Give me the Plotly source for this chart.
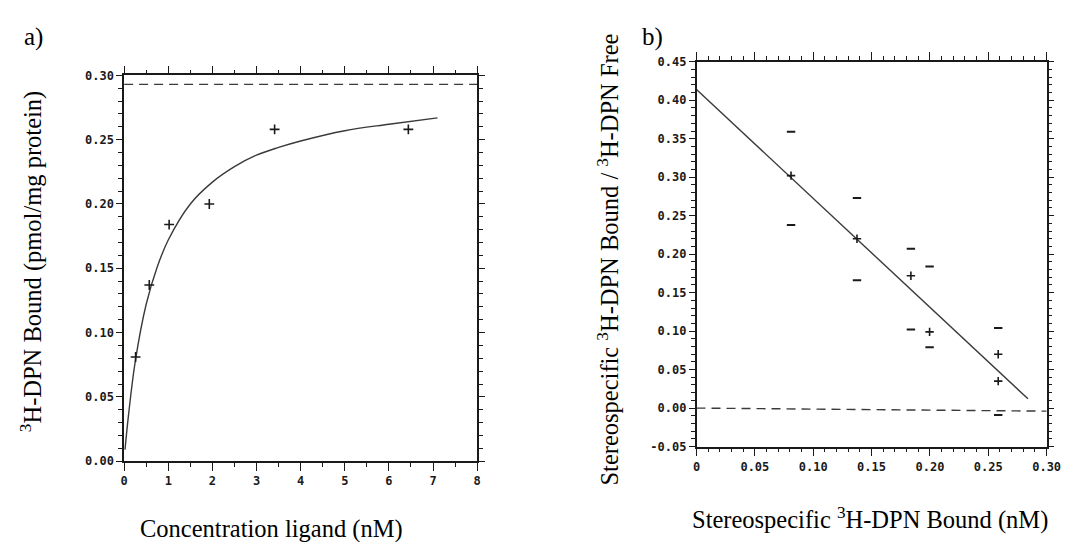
import plotly.graph_objects as go

W, H = 1091, 542

# ---------------- data: panel a (saturation binding) ----------------
conc_nM = [0.26, 0.57, 1.02, 1.93, 3.41, 6.44]
bound_pmol = [0.081, 0.137, 0.184, 0.200, 0.258, 0.258]
fit_x = [0.02, 0.1, 0.25, 0.5, 0.75, 1.0, 1.5, 2.0, 2.5, 3.0, 3.5, 4.0, 5.0, 6.0, 7.1]
fit_y = [0.009, 0.036, 0.077, 0.122, 0.151, 0.172, 0.200, 0.217, 0.229, 0.238, 0.244, 0.249, 0.257, 0.262, 0.267]
bmax_x = [0, 8]
bmax_y = [0.293, 0.293]

# ---------------- data: panel b (Scatchard) ----------------
sc_bound = [0.081, 0.1375, 0.1837, 0.1997, 0.2585, 0.2585]
sc_ratio = [0.302, 0.220, 0.172, 0.099, 0.070, 0.035]
cap_x = [0.081, 0.1375, 0.1837, 0.1997, 0.2585]
cap_hi = [0.359, 0.273, 0.207, 0.184, 0.104]
cap_lo = [0.238, 0.166, 0.102, 0.079, -0.009]
reg_x = [0.0, 0.284]
reg_y = [0.414, 0.012]
zero_x = [0.0, 0.30]
zero_y = [0.0, -0.004]

a_xticks = [0, 1, 2, 3, 4, 5, 6, 7, 8]
a_xlabels = ["0", "1", "2", "3", "4", "5", "6", "7", "8"]
a_yticks = [0.0, 0.05, 0.10, 0.15, 0.20, 0.25, 0.30]
a_ylabels = ["0.00", "0.05", "0.10", "0.15", "0.20", "0.25", "0.30"]
b_xticks = [0, 0.05, 0.10, 0.15, 0.20, 0.25, 0.30]
b_xlabels = ["0", "0.05", "0.10", "0.15", "0.20", "0.25", "0.30"]
b_yticks = [-0.05, 0.0, 0.05, 0.10, 0.15, 0.20, 0.25, 0.30, 0.35, 0.40, 0.45]
b_ylabels = ["-0.05", "0.00", "0.05", "0.10", "0.15", "0.20", "0.25", "0.30", "0.35", "0.40", "0.45"]

INK = "#1a1a1a"
LINE = "#3a3a3a"

fig = go.Figure()

# panel a
fig.add_trace(go.Scatter(x=bmax_x, y=bmax_y, mode="lines", xaxis="x", yaxis="y",
                         line=dict(color=LINE, width=1.4, dash="9px,6px"), showlegend=False))
fig.add_trace(go.Scatter(x=fit_x, y=fit_y, mode="lines", xaxis="x", yaxis="y", line_shape="spline",
                         line=dict(color=LINE, width=1.4), showlegend=False))
fig.add_trace(go.Scatter(x=conc_nM, y=bound_pmol, mode="markers", xaxis="x", yaxis="y",
                         marker=dict(symbol="cross-thin", size=7, line=dict(color=INK, width=1.6)),
                         showlegend=False))

# panel b
fig.add_trace(go.Scatter(x=zero_x, y=zero_y, mode="lines", xaxis="x2", yaxis="y2",
                         line=dict(color=LINE, width=1.4, dash="9px,6px"), showlegend=False))
fig.add_trace(go.Scatter(x=reg_x, y=reg_y, mode="lines", xaxis="x2", yaxis="y2",
                         line=dict(color=LINE, width=1.4), showlegend=False))
fig.add_trace(go.Scatter(x=cap_x + cap_x, y=cap_hi + cap_lo, mode="markers", xaxis="x2", yaxis="y2",
                         marker=dict(symbol="line-ew", size=6, line=dict(color=INK, width=2)),
                         showlegend=False))
fig.add_trace(go.Scatter(x=sc_bound, y=sc_ratio, mode="markers", xaxis="x2", yaxis="y2",
                         marker=dict(symbol="cross-thin", size=6, line=dict(color=INK, width=1.6)),
                         showlegend=False))

tickfont = dict(family="DejaVu Sans Mono", size=12, color=INK, weight="bold")


def ax(domain, rng, tv, tt, minor_dtick, anchor, major_len=8):
    return dict(domain=domain, range=rng, anchor=anchor, showgrid=False, zeroline=False,
                showline=True, linecolor=INK, linewidth=1.5, mirror="ticks",
                ticks="outside", ticklen=major_len, tickwidth=1.3, tickcolor=INK,
                tickvals=tv, ticktext=tt, tickfont=tickfont,
                minor=dict(ticks="outside", ticklen=4, tickwidth=1.1, tickcolor=INK,
                           dtick=minor_dtick, showgrid=False))


def px_x(p):
    return p / W


def px_y(p):
    return 1 - p / H


fig.update_layout(
    width=W, height=H, autosize=False,
    margin=dict(l=0, r=0, t=0, b=0),
    paper_bgcolor="white", plot_bgcolor="white",
    xaxis=ax([px_x(114), px_x(473)], [0, 8], a_xticks, a_xlabels, 0.5, "y"),
    yaxis=ax([px_y(458), px_y(62)], [0, 0.30], a_yticks, a_ylabels, 0.01, "x", 6),
    xaxis2=ax([px_x(696), px_x(1052)], [0, 0.30], b_xticks, b_xlabels, 0.01, "y2"),
    yaxis2=ax([px_y(443), px_y(48)], [-0.05, 0.45], b_yticks, b_ylabels, 0.01, "x2", 6),
)

serif = dict(family="Liberation Serif, Times New Roman, serif", size=24.5, color="black")


def note(text, x, y, angle=0, size=24.5):
    f = dict(serif)
    f["size"] = size
    fig.add_annotation(text=text, x=px_x(x), y=px_y(y), xref="paper", yref="paper",
                       xanchor="center", yanchor="middle", showarrow=False,
                       textangle=angle, font=f)


note("a)", 22, 23, size=25)
note("b)", 651, 23, size=25)
note("<sup>3</sup>H-DPN Bound (pmol/mg protein)", 20, 253, angle=-90)
note("Concentration ligand (nM)", 264, 528)
note("Stereospecific <sup>3</sup>H-DPN Bound (nM)", 872, 517)
note("Stereospecific <sup>3</sup>H-DPN Bound / <sup>3</sup>H-DPN Free", 605, 251, angle=-90)

fig.write_html("out.html")
